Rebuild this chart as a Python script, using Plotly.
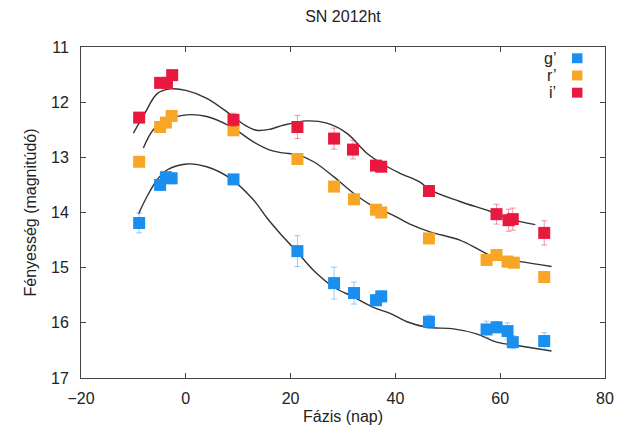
import plotly.graph_objects as go

# ---- data ----
phase_g = [-8.9, -4.9, -3.8, -2.7, 9.1, 21.3, 28.3, 32.1, 36.3, 37.3, 46.4, 57.4, 59.3, 61.4, 62.4, 68.4]
mag_g = [14.19, 13.50, 13.36, 13.38, 13.40, 14.70, 15.28, 15.46, 15.59, 15.52, 15.98, 16.12, 16.08, 16.15, 16.35, 16.33]
err_g = [0.18, 0.05, 0.08, 0.10, 0.08, 0.28, 0.29, 0.20, 0.10, 0.10, 0.12, 0.15, 0.10, 0.15, 0.12, 0.15]

phase_r = [-8.9, -4.9, -3.8, -2.7, 9.1, 21.3, 28.3, 32.1, 36.3, 37.3, 46.4, 57.4, 59.3, 61.4, 62.6, 68.4]
mag_r = [13.08, 12.45, 12.37, 12.25, 12.51, 13.03, 13.53, 13.76, 13.95, 14.00, 14.47, 14.86, 14.77, 14.89, 14.91, 15.17]
err_r = [0.05, 0.05, 0.05, 0.05, 0.06, 0.05, 0.05, 0.05, 0.05, 0.05, 0.05, 0.08, 0.06, 0.10, 0.08, 0.10]

phase_i = [-8.9, -4.9, -3.6, -2.6, 9.1, 21.3, 28.3, 31.9, 36.3, 37.3, 46.4, 59.3, 61.6, 62.4, 68.4]
mag_i = [12.28, 11.65, 11.65, 11.51, 12.32, 12.45, 12.66, 12.86, 13.15, 13.17, 13.61, 14.03, 14.14, 14.12, 14.37]
err_i = [0.05, 0.05, 0.05, 0.08, 0.12, 0.21, 0.19, 0.17, 0.06, 0.06, 0.10, 0.18, 0.20, 0.20, 0.22]

# fitted curves
curve_phase_g = [-9.0, -7.4, -5.5, -3.6, 0.2, 4.0, 8.5, 12.9, 15.5, 18.0, 21.2, 24.4, 28.2, 32.0, 35.8, 39.0, 42.2, 46.0, 51.1, 55.5, 59.3, 63.2, 69.8]
curve_mag_g = [14.02, 13.71, 13.41, 13.23, 13.12, 13.17, 13.38, 13.77, 14.10, 14.38, 14.71, 15.05, 15.35, 15.53, 15.72, 15.83, 15.98, 16.08, 16.11, 16.20, 16.35, 16.41, 16.51]

curve_phase_r = [-8.1, -6.2, -3.6, 0.2, 4.0, 8.5, 12.9, 16.1, 18.5, 21.2, 24.4, 28.2, 32.0, 35.8, 39.6, 43.0, 46.6, 52.3, 56.1, 59.3, 63.8, 69.8]
curve_mag_r = [12.83, 12.50, 12.32, 12.23, 12.26, 12.44, 12.72, 12.87, 12.92, 12.95, 13.08, 13.35, 13.65, 13.89, 14.05, 14.22, 14.35, 14.50, 14.68, 14.83, 14.89, 14.98]

curve_phase_i = [-10.0, -7.8, -5.5, -3.0, 0.2, 4.0, 8.5, 11.0, 13.5, 16.1, 18.5, 23.1, 26.9, 30.7, 34.5, 37.7, 40.9, 44.7, 46.6, 52.3, 58.1, 61.9, 66.7]
curve_mag_i = [12.56, 12.20, 11.85, 11.76, 11.79, 11.93, 12.22, 12.40, 12.51, 12.49, 12.42, 12.34, 12.38, 12.56, 12.92, 13.13, 13.29, 13.45, 13.59, 13.80, 13.98, 14.12, 14.22]

band_names = ["g\u2019", "r\u2019", "i\u2019"]
colors = ["#1a8ff0", "#f8a628", "#e8183e"]
err_colors = ["rgba(26,143,240,0.45)", "rgba(248,166,40,0.45)", "rgba(232,24,62,0.45)"]

fig = go.Figure()

curves = [(curve_phase_g, curve_mag_g), (curve_phase_r, curve_mag_r), (curve_phase_i, curve_mag_i)]
for cx, cy in curves:
    fig.add_trace(go.Scatter(x=cx, y=cy, mode="lines", line=dict(color="#333333", width=1.4, shape="spline", smoothing=1.0),
                             showlegend=False, hoverinfo="skip"))

points = [(phase_g, mag_g, err_g), (phase_r, mag_r, err_r), (phase_i, mag_i, err_i)]
for k, (px, py, pe) in enumerate(points):
    fig.add_trace(go.Scatter(
        x=px, y=py, mode="markers", name=band_names[k],
        marker=dict(symbol="square", size=12, color=colors[k], line=dict(width=0)),
        error_y=dict(type="data", array=pe, visible=True, color=err_colors[k], thickness=1, width=3),
        showlegend=False))

# legend (text to the left of the symbol, as in the original)
for k in range(3):
    ypos = 0.966 - k * 0.052
    fig.add_annotation(xref="paper", yref="paper", x=0.91, y=ypos, text=band_names[k], showarrow=False,
                       xanchor="right", yanchor="middle", font=dict(size=16, color="#222222"))
    fig.add_shape(type="rect", xref="paper", yref="paper", x0=0.937, x1=0.957,
                  y0=ypos - 0.015, y1=ypos + 0.015, fillcolor=colors[k], line=dict(width=0))

fig.update_layout(
    width=617, height=429,
    margin=dict(l=81, r=12, t=47, b=51, autoexpand=False),
    paper_bgcolor="white", plot_bgcolor="white",
    font=dict(family="Liberation Sans, Arial, sans-serif", color="#222222"),
    title=dict(text="SN 2012ht", x=0.5, xref="paper", xanchor="center", y=0.962, yanchor="middle",
               font=dict(size=16, color="#222222")),
)
fig.update_xaxes(range=[-20, 80], dtick=20, tick0=0, ticks="inside", ticklen=5, tickcolor="#444444",
                 showline=True, linecolor="#444444", linewidth=1, mirror="allticks", showgrid=False, zeroline=False,
                 tickfont=dict(size=16), ticklabelstandoff=6, automargin=False,
                 title=dict(text="Fázis (nap)", font=dict(size=16), standoff=4))
fig.update_yaxes(range=[17, 11], dtick=1, tick0=11, ticks="inside", ticklen=5, tickcolor="#444444",
                 showline=True, linecolor="#444444", linewidth=1, mirror="allticks", showgrid=False, zeroline=False,
                 tickfont=dict(size=16), ticklabelstandoff=8, automargin=False,
                 title=dict(text="Fényesség (magnitúdó)", font=dict(size=16), standoff=10))

fig.write_html("out.html", config={"displayModeBar": False},
               post_script="document.body.style.margin='0px';")
